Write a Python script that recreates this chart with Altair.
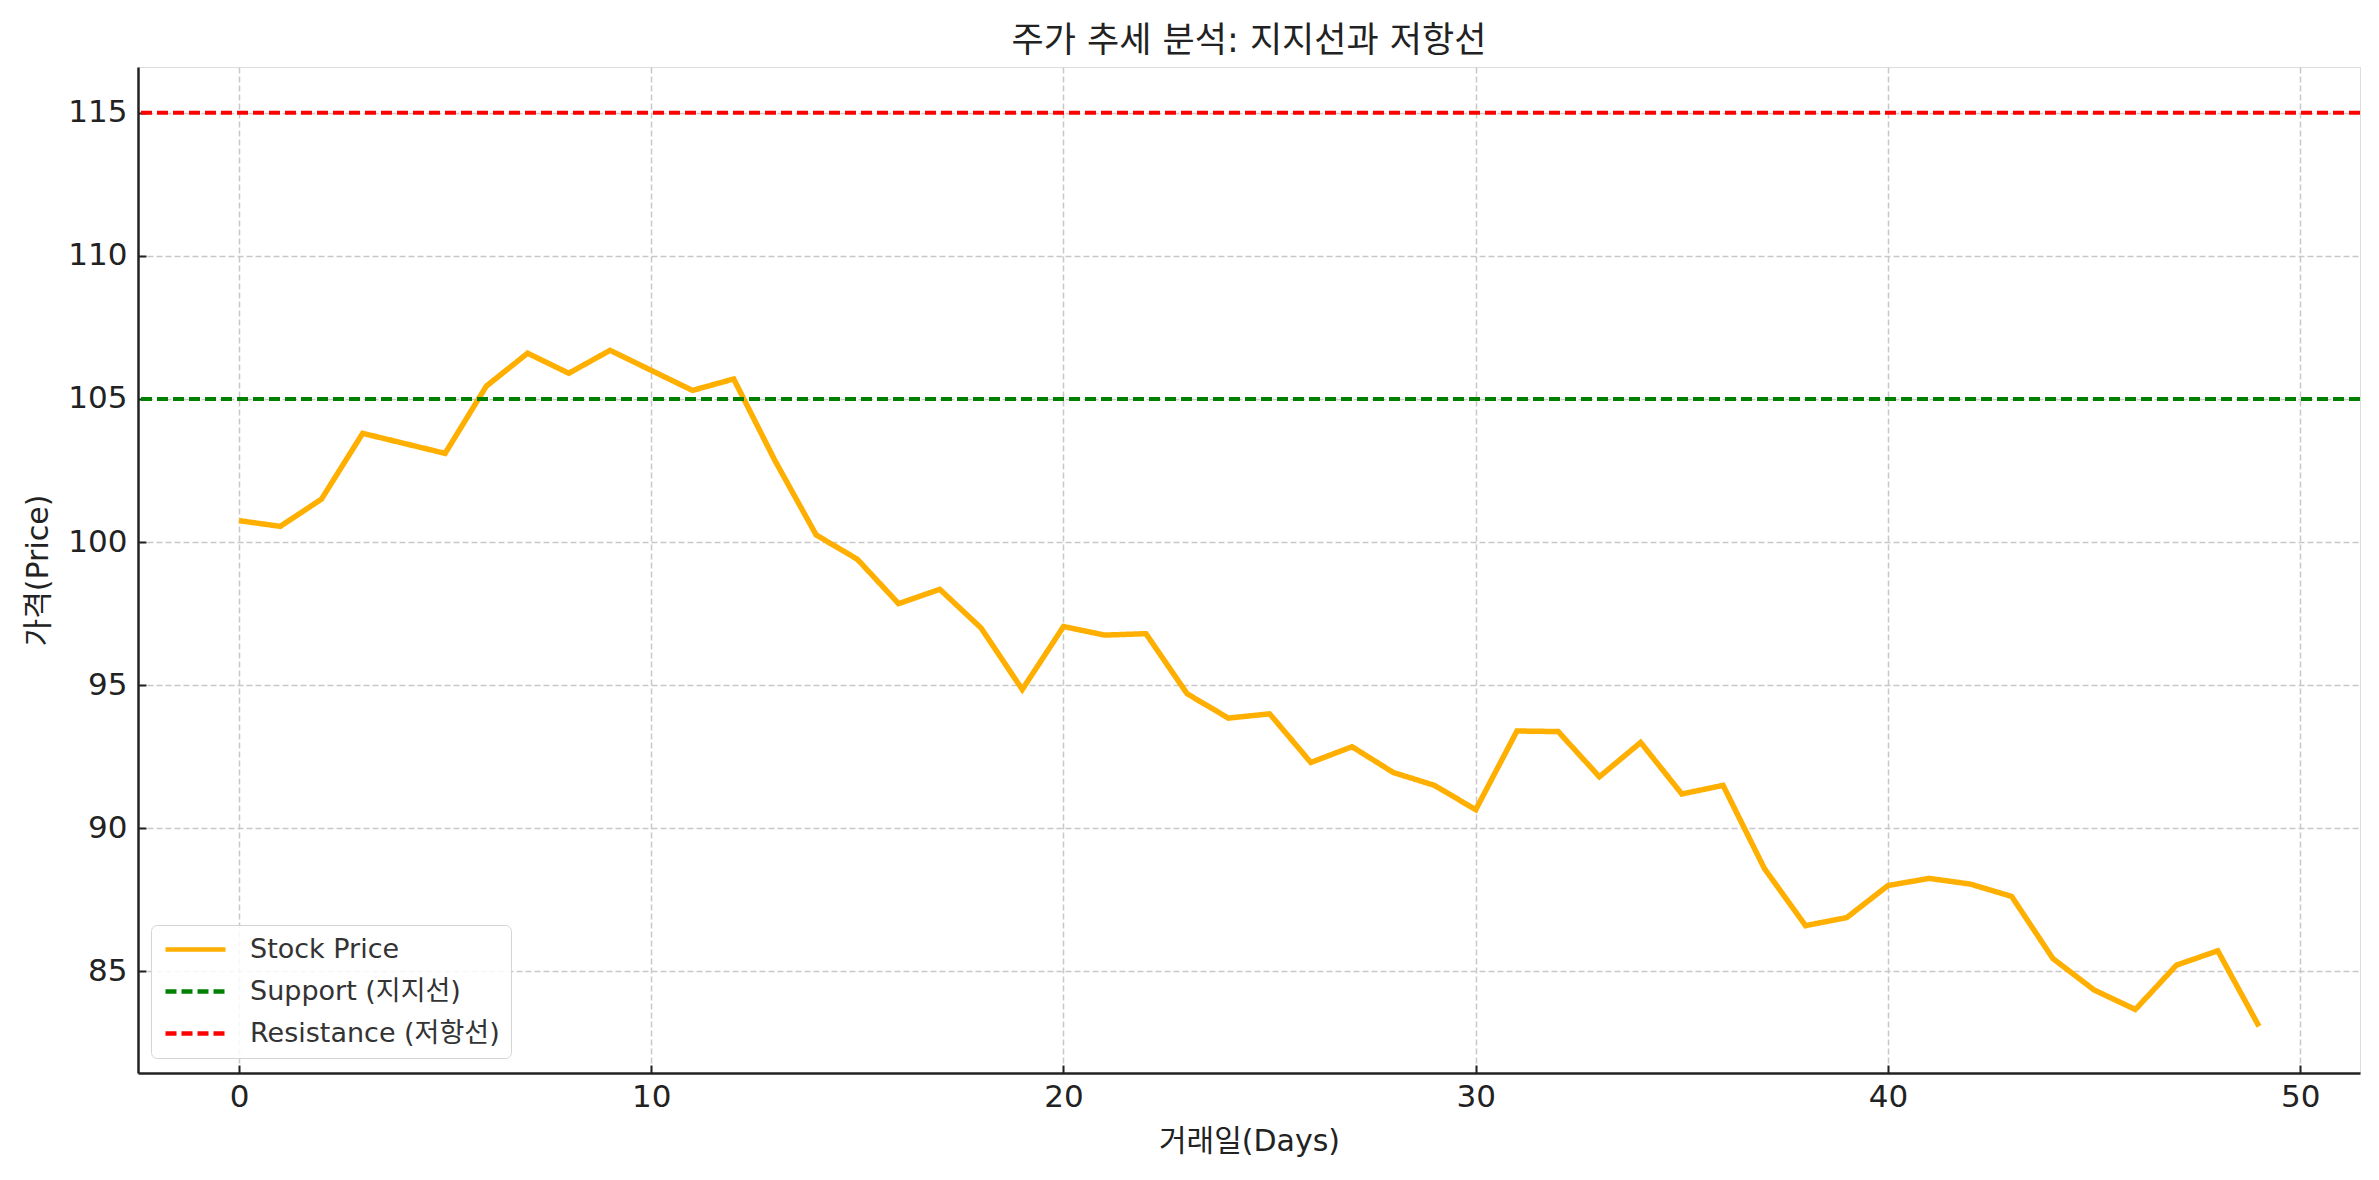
import altair as alt
import pandas as pd

days = list(range(50))
prices = [100.75, 100.55, 101.5, 103.8, 103.45, 103.1, 105.45, 106.6, 105.9, 106.7,
          106.0, 105.3, 105.7, 102.85, 100.25, 99.4, 97.85, 98.35, 97.0, 94.85,
          97.05, 96.75, 96.8, 94.7, 93.85, 94.0, 92.3, 92.85, 91.95, 91.5,
          90.65, 93.4, 93.38, 91.8, 93.0, 91.2, 91.5, 88.6, 86.6, 86.88,
          88.0, 88.25, 88.05, 87.62, 85.45, 84.35, 83.67, 85.22, 85.72, 83.08]
level_names = ["Support (지지선)", "Resistance (저항선)"]
level_values = [105, 115]
series_names = ["Stock Price"] + level_names
series_colors = ["#FFAF00", "#008000", "#FF0000"]
series_dash = [[1, 0], [11, 5], [11, 5]]
x_ticks = [0, 10, 20, 30, 40, 50]
y_ticks = [85, 90, 95, 100, 105, 110, 115]

price_df = pd.DataFrame({"day": days, "price": prices, "series": "Stock Price"})
lev_df = pd.DataFrame({"level": level_values, "series": level_names})

FONT = "DejaVu Sans, Noto Sans CJK KR"
xscale = alt.Scale(domain=[-2.45, 51.45], nice=False, zero=False)
yscale = alt.Scale(domain=[81.45, 116.6], nice=False, zero=False)

color = alt.Color("series:N", scale=alt.Scale(domain=series_names, range=series_colors),
                  legend=alt.Legend(title=None, orient="none", legendX=13, legendY=858,
                                    symbolType="M-1,0L5,0", symbolSize=400, symbolStrokeWidth=4.5,
                                    labelFontSize=27, labelFont=FONT, labelColor="#333333",
                                    labelOffset=61, rowPadding=14, padding=11,
                                    strokeColor="#d4d4d4", fillColor="rgba(255,255,255,0.85)",
                                    cornerRadius=6, labelLimit=600))
dash = alt.StrokeDash("series:N", scale=alt.Scale(domain=series_names, range=series_dash),
                      legend=None)

main_x = alt.Axis(values=x_ticks, title="거래일(Days)", grid=True, gridDash=[6, 3],
                  gridColor="#c8c8c8", gridWidth=1.5, ticks=False, domainColor="#222222",
                  domainWidth=2.5, labelFontSize=31, labelFont=FONT, labelColor="#222222",
                  labelPadding=9, titleFontSize=30, titleFont=FONT, titleFontWeight="normal",
                  titleColor="#222222", titlePadding=14, orient="bottom")
main_y = alt.Axis(values=y_ticks, title="가격(Price)", grid=True, gridDash=[6, 3],
                  gridColor="#c8c8c8", gridWidth=1.5, ticks=False, domainColor="#222222",
                  domainWidth=2.5, labelFontSize=31, labelFont=FONT, labelColor="#222222",
                  labelPadding=11, titleFontSize=30, titleFont=FONT, titleFontWeight="normal",
                  titleColor="#222222", titlePadding=14, orient="left")
tick_x = alt.Axis(values=x_ticks, title=None, grid=False, labels=False, domain=False,
                  ticks=True, tickSize=8, tickWidth=2, tickColor="#222222", offset=-8,
                  orient="bottom")
tick_y = alt.Axis(values=y_ticks, title=None, grid=False, labels=False, domain=False,
                  ticks=True, tickSize=8, tickWidth=2, tickColor="#222222", offset=-8,
                  orient="left")

line = alt.Chart(price_df).mark_line(strokeWidth=5.5).encode(
    x=alt.X("day:Q", scale=xscale, axis=main_x),
    y=alt.Y("price:Q", scale=yscale, axis=main_y),
    color=color, strokeDash=dash)

rules = alt.Chart(lev_df).mark_rule(strokeWidth=4).encode(
    y=alt.Y("level:Q", scale=yscale, axis=None),
    color=color, strokeDash=dash)

ticks = alt.Chart(price_df).mark_line(opacity=0).encode(
    x=alt.X("day:Q", scale=xscale, axis=tick_x),
    y=alt.Y("price:Q", scale=yscale, axis=tick_y))

chart = alt.layer(line, rules, ticks).resolve_axis(x="independent", y="independent").properties(
    width=2222, height=1006,
    autosize=alt.AutoSizeParams(type="none"),
    padding={"left": 130, "top": 59, "right": 11, "bottom": 90},
    title=alt.TitleParams("주가 추세 분석: 지지선과 저항선", fontSize=35, font=FONT,
                          fontWeight="normal", color="#222222", offset=8, anchor="middle"),
).configure_view(stroke=None).configure(background="white")

chart.save("out.html", embed_options={"renderer": "svg", "actions": False})
